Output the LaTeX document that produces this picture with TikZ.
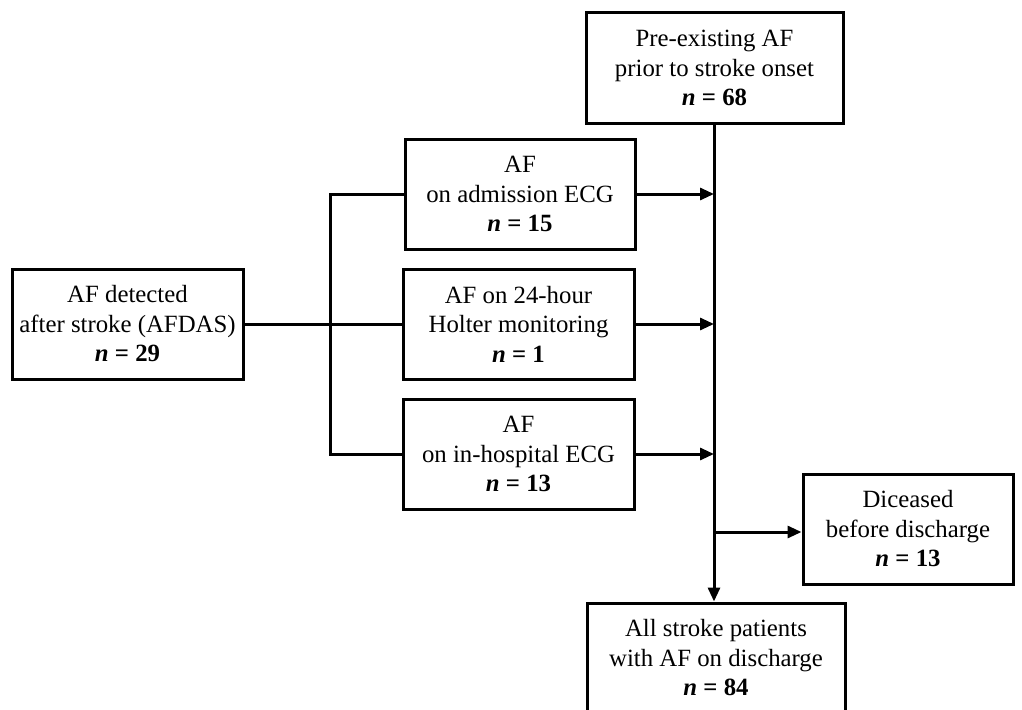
\documentclass[tikz,border=0pt]{standalone}
\usepackage{fontspec}
\setmainfont{Liberation Serif}
\usetikzlibrary{arrows.meta}
\begin{document}
\begin{tikzpicture}[x=1pt,y=-1pt,
  box/.style={draw,line width=3pt,rectangle,align=center,inner sep=0pt,
    minimum height=110pt,font=\fontsize{24.8}{29.5}\selectfont},
  conn/.style={line width=3pt},
  arr/.style={conn,-{Triangle[length=14pt,width=12pt]}}]
\useasboundingbox (0,0) rectangle (1022,709);
\clip (0,0) rectangle (1022,709);
\node[box,minimum width=257pt] (pre) at (714.5,68) {Pre-existing AF\\prior to stroke onset\\\textbf{\textit{n}~=~68}};
\node[box,minimum width=230pt] (adm) at (520,194) {AF\\on admission ECG\\\textbf{\textit{n}~=~15}};
\node[box,minimum width=231pt] (hol) at (518.5,324) {AF on 24-hour\\Holter monitoring\\\textbf{\textit{n}~=~1}};
\node[box,minimum width=231pt] (inh) at (518.5,454) {AF\\on in-hospital ECG\\\textbf{\textit{n}~=~13}};
\node[box,minimum width=231pt] (det) at (127.5,324) {AF detected\\after stroke (AFDAS)\\\textbf{\textit{n}~=~29}};
\node[box,minimum width=210pt] (dec) at (908,529) {Diceased\\before discharge\\\textbf{\textit{n}~=~13}};
\node[box,minimum width=258pt] (all) at (716,658) {All stroke patients\\with AF on discharge\\\textbf{\textit{n}~=~84}};
\coordinate (br) at (330,324);
\coordinate (jd) at (714,532);
\draw[conn] (det.east) -- (hol.west);
\draw[conn] (adm.west) -| (br) |- (inh.west);
\draw[arr] (pre.south -| 714,0) -- (all.north -| 714,0);
\draw[arr] (adm.east) -- (adm.east -| 714,0);
\draw[arr] (hol.east) -- (hol.east -| 714,0);
\draw[arr] (inh.east) -- (inh.east -| 714,0);
\draw[arr] (jd) -- (jd -| dec.west);
\end{tikzpicture}
\end{document}
